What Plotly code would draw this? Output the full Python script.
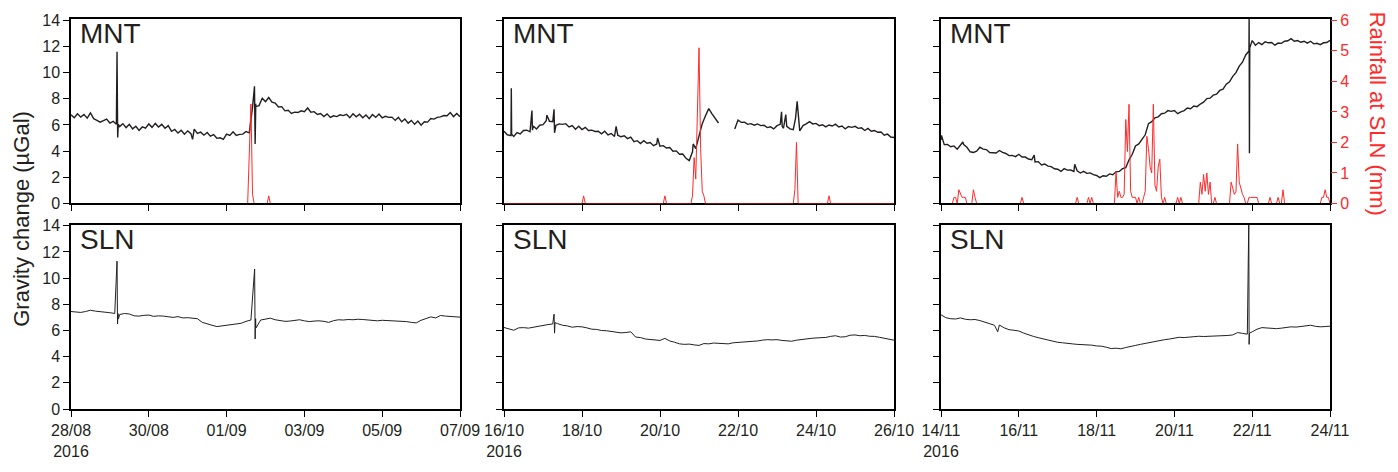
import pandas as pd
import plotly.graph_objects as go

# ---------------- data ----------------
period_starts = ["2016-08-28", "2016-10-16", "2016-11-14"]
period_ends = ["2016-09-07", "2016-10-26", "2016-11-24"]

tick_dates = [
    ["2016-08-28", "2016-08-30", "2016-09-01", "2016-09-03", "2016-09-05", "2016-09-07"],
    ["2016-10-16", "2016-10-18", "2016-10-20", "2016-10-22", "2016-10-24", "2016-10-26"],
    ["2016-11-14", "2016-11-16", "2016-11-18", "2016-11-20", "2016-11-22", "2016-11-24"],
]
tick_labels = [
    ["28/08<br>2016", "30/08", "01/09", "03/09", "05/09", "07/09"],
    ["16/10<br>2016", "18/10", "20/10", "22/10", "24/10", "26/10"],
    ["14/11<br>2016", "16/11", "18/11", "20/11", "22/11", "24/11"],
]

# MNT gravity change (µGal), every 2 hours from period start
mnt_step_h = 2
mnt_p1 = [6.78, 6.55, 6.85, 6.60, 6.80, 6.52, 6.92, 6.48, 6.36, 6.22,
          6.34, 6.45, 6.15, 6.28, 6.05, 5.88, 6.10, 5.80, 6.05, 5.70,
          5.90, 5.58, 5.85, 5.75, 6.08, 5.82, 6.12, 5.85, 6.05, 5.75,
          5.95, 5.52, 5.66, 5.38, 5.60, 5.30, 5.55, 5.34, 5.68, 5.35,
          5.45, 5.22, 5.42, 5.15, 5.26, 4.98, 5.02, 4.90, 5.30, 5.20,
          5.48, 5.20, 5.28, 5.30, 5.50, 5.40, 7.35, 7.62, 7.48, 8.05,
          7.78, 8.10, 7.75, 7.68, 7.38, 7.40, 7.08, 7.12, 6.88, 6.98,
          6.95, 7.08, 7.02, 7.30, 6.98, 7.02, 6.80, 6.88, 6.65, 6.85,
          6.58, 6.70, 6.64, 6.78, 6.72, 6.82, 6.55, 6.85, 6.62, 6.82,
          6.55, 6.76, 6.48, 6.80, 6.58, 6.84, 6.55, 6.66, 6.58, 6.60,
          6.35, 6.58, 6.24, 6.45, 6.14, 6.35, 6.05, 6.30, 5.98, 6.25,
          6.22, 6.50, 6.45, 6.58, 6.62, 6.72, 6.70, 6.95, 6.64, 6.88,
          6.62]
mnt_p1_spike_h = [28.4, 28.8, 29.2, 75.0, 113.2, 113.6, 114.0]
mnt_p1_spike_v = [11.6, 5.05, 6.05, 4.9, 8.95, 4.55, 7.4]

mnt_p2 = [5.52, 5.25, 5.20, 5.12, 5.42, 5.32, 5.58, 5.60, 5.48, 5.92,
          5.70, 5.98, 6.02, 6.32, 6.28, 6.25, 5.98, 6.08, 6.05, 6.10,
          5.85, 5.95, 5.68, 5.90, 5.65, 5.82, 5.58, 5.60, 5.50, 5.52,
          5.32, 5.52, 5.24, 5.35, 5.12, 5.22, 5.10, 5.18, 4.96, 5.08,
          4.72, 4.80, 4.58, 4.80, 4.60, 4.66, 4.42, 4.55, 4.38, 4.42,
          4.24, 4.28, 4.00, 4.02, 3.76, 3.78, 3.45, 3.28, 3.95, 4.20,
          5.20, 6.10, 6.70, 7.25, 6.85, 6.45, 6.15, None, None, None,
          None, 5.70, 6.38, 6.20, 6.22, 6.05, 6.10, 5.98, 6.08, 5.95,
          5.98, 5.80, 5.86, 5.70, 5.95, 6.05, 5.75, 5.90, 5.70, 5.64,
          7.50, 5.55, 5.95, 6.08, 6.25, 6.08, 6.12, 5.95, 6.02, 5.85,
          6.00, 5.92, 6.06, 5.85, 5.92, 5.70, 5.88, 5.82, 5.90, 5.74,
          5.78, 5.58, 5.74, 5.52, 5.58, 5.44, 5.46, 5.22, 5.30, 5.08,
          5.04]
mnt_p2_spike_h = [4.3, 4.5, 4.7, 17.2, 17.5, 26.4, 30.8, 31.1, 69.0, 94.5, 116.4,
                  170.8, 171.2, 173.4, 179.4, 180.4]
mnt_p2_spike_v = [5.2, 8.8, 5.3, 7.1, 5.6, 6.75, 7.2, 5.4, 5.9, 5.0, 4.55,
                  7.0, 5.9, 6.8, 6.5, 7.8]

mnt_p3 = [4.85, 4.50, 4.52, 4.34, 4.40, 4.15, 4.48, 4.50, 4.30, 3.95,
          3.90, 4.00, 4.30, 4.15, 4.12, 3.90, 3.90, 3.86, 4.05, 3.90,
          3.82, 3.66, 3.68, 3.58, 3.76, 3.55, 3.55, 3.40, 3.34, 3.18,
          3.20, 2.95, 3.02, 2.85, 2.82, 2.65, 2.62, 2.45, 2.66, 2.55,
          2.56, 2.45, 2.50, 2.33, 2.46, 2.30, 2.34, 2.20, 2.14, 1.98,
          2.12, 2.08, 2.26, 2.20, 2.42, 2.45, 2.66, 2.74, 3.34, 3.76,
          4.40, 4.55, 4.90, 5.25, 6.10, 6.25, 6.55, 6.62, 6.86, 6.90,
          7.10, 7.04, 7.10, 6.86, 7.00, 7.10, 7.30, 7.24, 7.45, 7.40,
          7.60, 7.74, 8.02, 8.05, 8.28, 8.35, 8.64, 8.74, 9.12, 9.30,
          9.72, 10.00, 10.50, 10.80, 11.35, 11.65, 12.45, 12.10, 12.30, 12.14,
          12.36, 12.28, 12.30, 12.10, 12.26, 12.24, 12.40, 12.44, 12.60, 12.40,
          12.45, 12.32, 12.40, 12.25, 12.40, 12.20, 12.24, 12.14, 12.28, 12.30,
          12.47]
mnt_p3_spike_h = [0.3, 13.5, 57.5, 82.5, 190.1, 190.3, 190.5]
mnt_p3_spike_v = [5.2, 4.7, 3.7, 3.0, 14.5, 3.84, 11.9]

# SLN gravity change (µGal), every 3 hours from period start
sln_step_h = 3
sln_p1 = [7.45, 7.40, 7.38, 7.45, 7.55, 7.48, 7.42, 7.40, 7.36, 7.30,
          7.22, 7.30, 7.26, 7.12, 7.10, 7.16, 7.18, 7.08, 7.12, 7.10,
          7.04, 7.00, 7.06, 6.96, 6.98, 6.92, 6.90, 6.62, 6.48, 6.40,
          6.30, 6.35, 6.40, 6.44, 6.46, 6.55, 6.70, 6.80, 6.45, 6.80,
          6.90, 6.94, 6.82, 6.74, 6.70, 6.72, 6.76, 6.82, 6.74, 6.68,
          6.72, 6.74, 6.70, 6.62, 6.75, 6.82, 6.80, 6.84, 6.82, 6.86,
          6.84, 6.80, 6.78, 6.74, 6.78, 6.76, 6.74, 6.70, 6.72, 6.68,
          6.62, 6.58, 6.78, 6.94, 7.04, 6.96, 7.15, 7.10, 7.08, 7.06,
          7.02]
sln_p1_spike_h = [28.4, 28.7, 29.0, 29.3, 113.3, 113.6, 113.9, 114.2]
sln_p1_spike_v = [11.3, 6.5, 7.3, 6.9, 10.7, 5.35, 6.9, 6.2]

sln_p2 = [6.23, 6.10, 6.02, 6.20, 6.22, 6.18, 6.26, 6.30, 6.38, 6.45,
          6.50, 6.52, 6.40, 6.35, 6.25, 6.30, 6.28, 6.20, 6.10, 6.08,
          6.00, 5.98, 5.92, 5.90, 5.82, 5.85, 5.90, 5.50, 5.46, 5.35,
          5.30, 5.28, 5.24, 5.40, 5.20, 5.10, 4.98, 4.94, 4.96, 4.90,
          4.86, 5.00, 4.98, 5.04, 5.02, 4.96, 4.98, 5.06, 5.08, 5.10,
          5.12, 5.16, 5.20, 5.26, 5.30, 5.28, 5.30, 5.24, 5.22, 5.18,
          5.26, 5.32, 5.38, 5.40, 5.43, 5.45, 5.47, 5.55, 5.60, 5.50,
          5.52, 5.64, 5.66, 5.60, 5.62, 5.56, 5.55, 5.48, 5.42, 5.35,
          5.26]
sln_p2_spike_h = [30.8, 31.1, 31.4]
sln_p2_spike_v = [7.25, 5.8, 6.6]

sln_p3 = [7.20, 6.98, 6.90, 6.88, 6.96, 6.86, 6.82, 6.84, 6.76, 6.62,
          6.50, 6.40, 6.42, 6.20, 6.06, 6.02, 5.96, 5.80, 5.66, 5.55,
          5.45, 5.36, 5.26, 5.18, 5.10, 5.06, 5.00, 4.98, 4.94, 4.92,
          4.94, 4.88, 4.82, 4.80, 4.72, 4.62, 4.65, 4.60, 4.70, 4.76,
          4.86, 4.94, 5.02, 5.10, 5.18, 5.26, 5.30, 5.35, 5.42, 5.48,
          5.46, 5.50, 5.52, 5.56, 5.54, 5.55, 5.58, 5.60, 5.58, 5.62,
          5.66, 5.84, 5.78, 5.72, 5.90, 6.10, 6.22, 6.20, 6.16, 6.14,
          6.18, 6.22, 6.28, 6.26, 6.30, 6.34, 6.40, 6.32, 6.28, 6.30,
          6.33]
sln_p3_spike_h = [35.0, 189.9, 190.1, 190.3]
sln_p3_spike_v = [5.9, 14.5, 4.94, 5.8]

# Hourly rainfall at SLN (mm): hour since period start -> mm (other hours 0)
rain_hours_total = 240
rain_p1 = {110: 1.75, 111: 3.26, 112: 0.3, 122: 0.25}
rain_p2 = {49: 0.25, 99: 0.25, 116: 0.25, 117: 1.5, 118: 0.8, 119: 3.5, 120: 5.1,
           121: 1.8, 122: 0.4, 123: 0.25, 179: 0.45, 180: 2.0, 200: 0.25}
rain_p3 = {8: 0.2, 9: 0.2, 11: 0.45, 12: 0.3, 13: 0.2, 14: 0.2, 15: 0.2, 20: 0.45,
           21: 0.2, 50: 0.2, 84: 0.2, 91: 0.2, 93: 0.2, 108: 1.05, 109: 0.2,
           110: 0.4, 111: 0.2, 112: 0.2, 113: 0.3, 114: 2.75, 115: 1.7, 116: 3.25,
           117: 0.4, 118: 0.2, 119: 0.2, 120: 0.2, 122: 0.2, 125: 0.2, 126: 0.4,
           127: 2.2, 128: 1.8, 129: 1.2, 130: 1.0, 131: 3.25, 132: 0.6, 133: 0.4,
           134: 1.2, 135: 1.45, 136: 0.2, 138: 0.2, 146: 0.2, 148: 0.2, 160: 0.7,
           161: 0.3, 162: 0.95, 163: 0.4, 164: 1.0, 165: 0.3, 166: 0.7, 169: 0.2,
           179: 0.7, 180: 0.5, 181: 0.3, 182: 0.4, 183: 1.95, 184: 0.7, 185: 0.5,
           186: 0.3, 187: 0.2, 190: 0.2, 191: 0.2, 192: 0.2, 193: 0.2, 194: 0.2,
           195: 0.2, 203: 0.2, 208: 0.2, 211: 0.45, 235: 0.2, 236: 0.2, 237: 0.45,
           238: 0.2, 239: 0.2}
# whether the zero-rain record is drawn along the baseline in each period
rain_show_zero = [False, True, False]

# ---------------- helpers ----------------
DARK = "#231f20"
RED = "#ff2a2a"
FONT = "Liberation Sans, Arial, sans-serif"


def build_series(start, step, vals, sh, sv):
    pts = [(i * step, v) for i, v in enumerate(vals)] + list(zip(sh, sv))
    pts.sort(key=lambda p: p[0])
    t0 = pd.Timestamp(start)
    t = [t0 + pd.Timedelta(hours=h) for h, _ in pts]
    y = [v for _, v in pts]
    return t, y


def build_rain(start, rain, show_zero):
    t0 = pd.Timestamp(start)
    hrs = list(range(rain_hours_total + 1))
    vals = []
    for h in hrs:
        v = rain.get(h, 0.0)
        if v == 0 and not show_zero and rain.get(h - 1, 0) == 0 and rain.get(h + 1, 0) == 0:
            vals.append(None)
        else:
            vals.append(v)
    return [t0 + pd.Timedelta(hours=h) for h in hrs], vals


mnt = [(mnt_p1, mnt_p1_spike_h, mnt_p1_spike_v),
       (mnt_p2, mnt_p2_spike_h, mnt_p2_spike_v),
       (mnt_p3, mnt_p3_spike_h, mnt_p3_spike_v)]
sln = [(sln_p1, sln_p1_spike_h, sln_p1_spike_v),
       (sln_p2, sln_p2_spike_h, sln_p2_spike_v),
       (sln_p3, sln_p3_spike_h, sln_p3_spike_v)]
rains = [rain_p1, rain_p2, rain_p3]

fig = go.Figure()

# layout geometry (pixels)
W, H = 1398, 472
ML, MR, MT, MB = 71, 68, 15, 49
pw = W - ML - MR
ph = H - MT - MB
col_px = [(71, 460), (504, 894), (941, 1330)]
row_px = [(15, 208), (230, 423)]  # top, bottom (pixels from top)


def xdom(c):
    a, b = col_px[c]
    return [(a - ML) / pw, (b - ML) / pw]


def ydom(r):
    a, b = row_px[r]
    return [(MT + ph - b) / ph, (MT + ph - a) / ph]


G_RANGE = [0, 14.1]
R_RANGE = [0, 6 * 14.1 / 14]

for c in range(3):
    xi = c + 1
    rt, rv = build_rain(period_starts[c], rains[c], rain_show_zero[c])
    fig.add_trace(go.Scatter(x=rt, y=rv, mode="lines", line=dict(color=RED, width=1),
                             connectgaps=False,
                             xaxis=f"x{xi}", yaxis=f"y{xi + 6}", showlegend=False))
    t, y = build_series(period_starts[c], mnt_step_h, *mnt[c])
    fig.add_trace(go.Scatter(x=t, y=y, mode="lines", line=dict(color=DARK, width=1.4),
                             xaxis=f"x{xi}", yaxis=f"y{xi}", showlegend=False,
                             connectgaps=False))
    xb = c + 4
    t, y = build_series(period_starts[c], sln_step_h, *sln[c])
    fig.add_trace(go.Scatter(x=t, y=y, mode="lines", line=dict(color=DARK, width=1),
                             xaxis=f"x{xb}", yaxis=f"y{xb}", showlegend=False))

axis_common = dict(showline=True, linecolor="black", linewidth=1.5, mirror=True,
                   ticks="outside", ticklen=6, tickwidth=1.2, tickcolor="black",
                   showgrid=False, zeroline=False,
                   tickfont=dict(family=FONT, size=16, color=DARK))

layout = {}
for c in range(3):
    for r in range(2):
        i = c + 1 + 3 * r
        key = "" if i == 1 else str(i)
        layout[f"xaxis{key}"] = dict(axis_common, domain=xdom(c), anchor=f"y{i}",
                                      range=[period_starts[c], period_ends[c]],
                                      tickvals=tick_dates[c], ticktext=tick_labels[c],
                                      showticklabels=(r == 1))
        layout[f"yaxis{key}"] = dict(axis_common, domain=ydom(r), anchor=f"x{i}",
                                      range=G_RANGE, tickvals=list(range(0, 15, 2)),
                                      showticklabels=(c == 0))
    j = c + 7
    sec = dict(overlaying=f"y{c + 1}" if c > 0 else "y", anchor=f"x{c + 1}", side="right",
               range=R_RANGE, showgrid=False, zeroline=False, showline=False)
    if c == 2:
        sec.update(visible=True, ticks="outside", ticklen=6, tickwidth=1.2, tickcolor=RED,
                   tickvals=list(range(0, 7)),
                   tickfont=dict(family=FONT, size=16, color=RED))
    else:
        sec.update(visible=False)
    layout[f"yaxis{j}"] = sec

layout["xaxis2"]["layer"] = "below traces"

annotations = []
for c in range(3):
    for r, name in enumerate(["MNT", "SLN"]):
        i = c + 1 + 3 * r
        xs = "x" if i == 1 else f"x{i}"
        ys = "y" if i == 1 else f"y{i}"
        annotations.append(dict(text=name, xref=f"{xs} domain", yref=f"{ys} domain",
                                x=0.018, y=1, xanchor="left", yanchor="top", yshift=3,
                                showarrow=False,
                                font=dict(family=FONT, size=28, color=DARK)))
annotations.append(dict(text="Gravity change (µGal)", xref="paper", yref="paper",
                        x=(22 - ML) / pw, y=(MT + ph - 224) / ph, textangle=-90,
                        xanchor="center", yanchor="middle", showarrow=False,
                        font=dict(family=FONT, size=22, color=DARK)))
annotations.append(dict(text="Rainfall at SLN (mm)", xref="paper", yref="paper",
                        x=(1377 - ML) / pw, y=(MT + ph - 114) / ph, textangle=90,
                        xanchor="center", yanchor="middle", showarrow=False,
                        font=dict(family=FONT, size=22, color=RED)))

fig.update_layout(**layout)
fig.update_layout(width=W, height=H, margin=dict(l=ML, r=MR, t=MT, b=MB),
                  paper_bgcolor="white", plot_bgcolor="white",
                  annotations=annotations, showlegend=False)

fig.write_html("out.html")
